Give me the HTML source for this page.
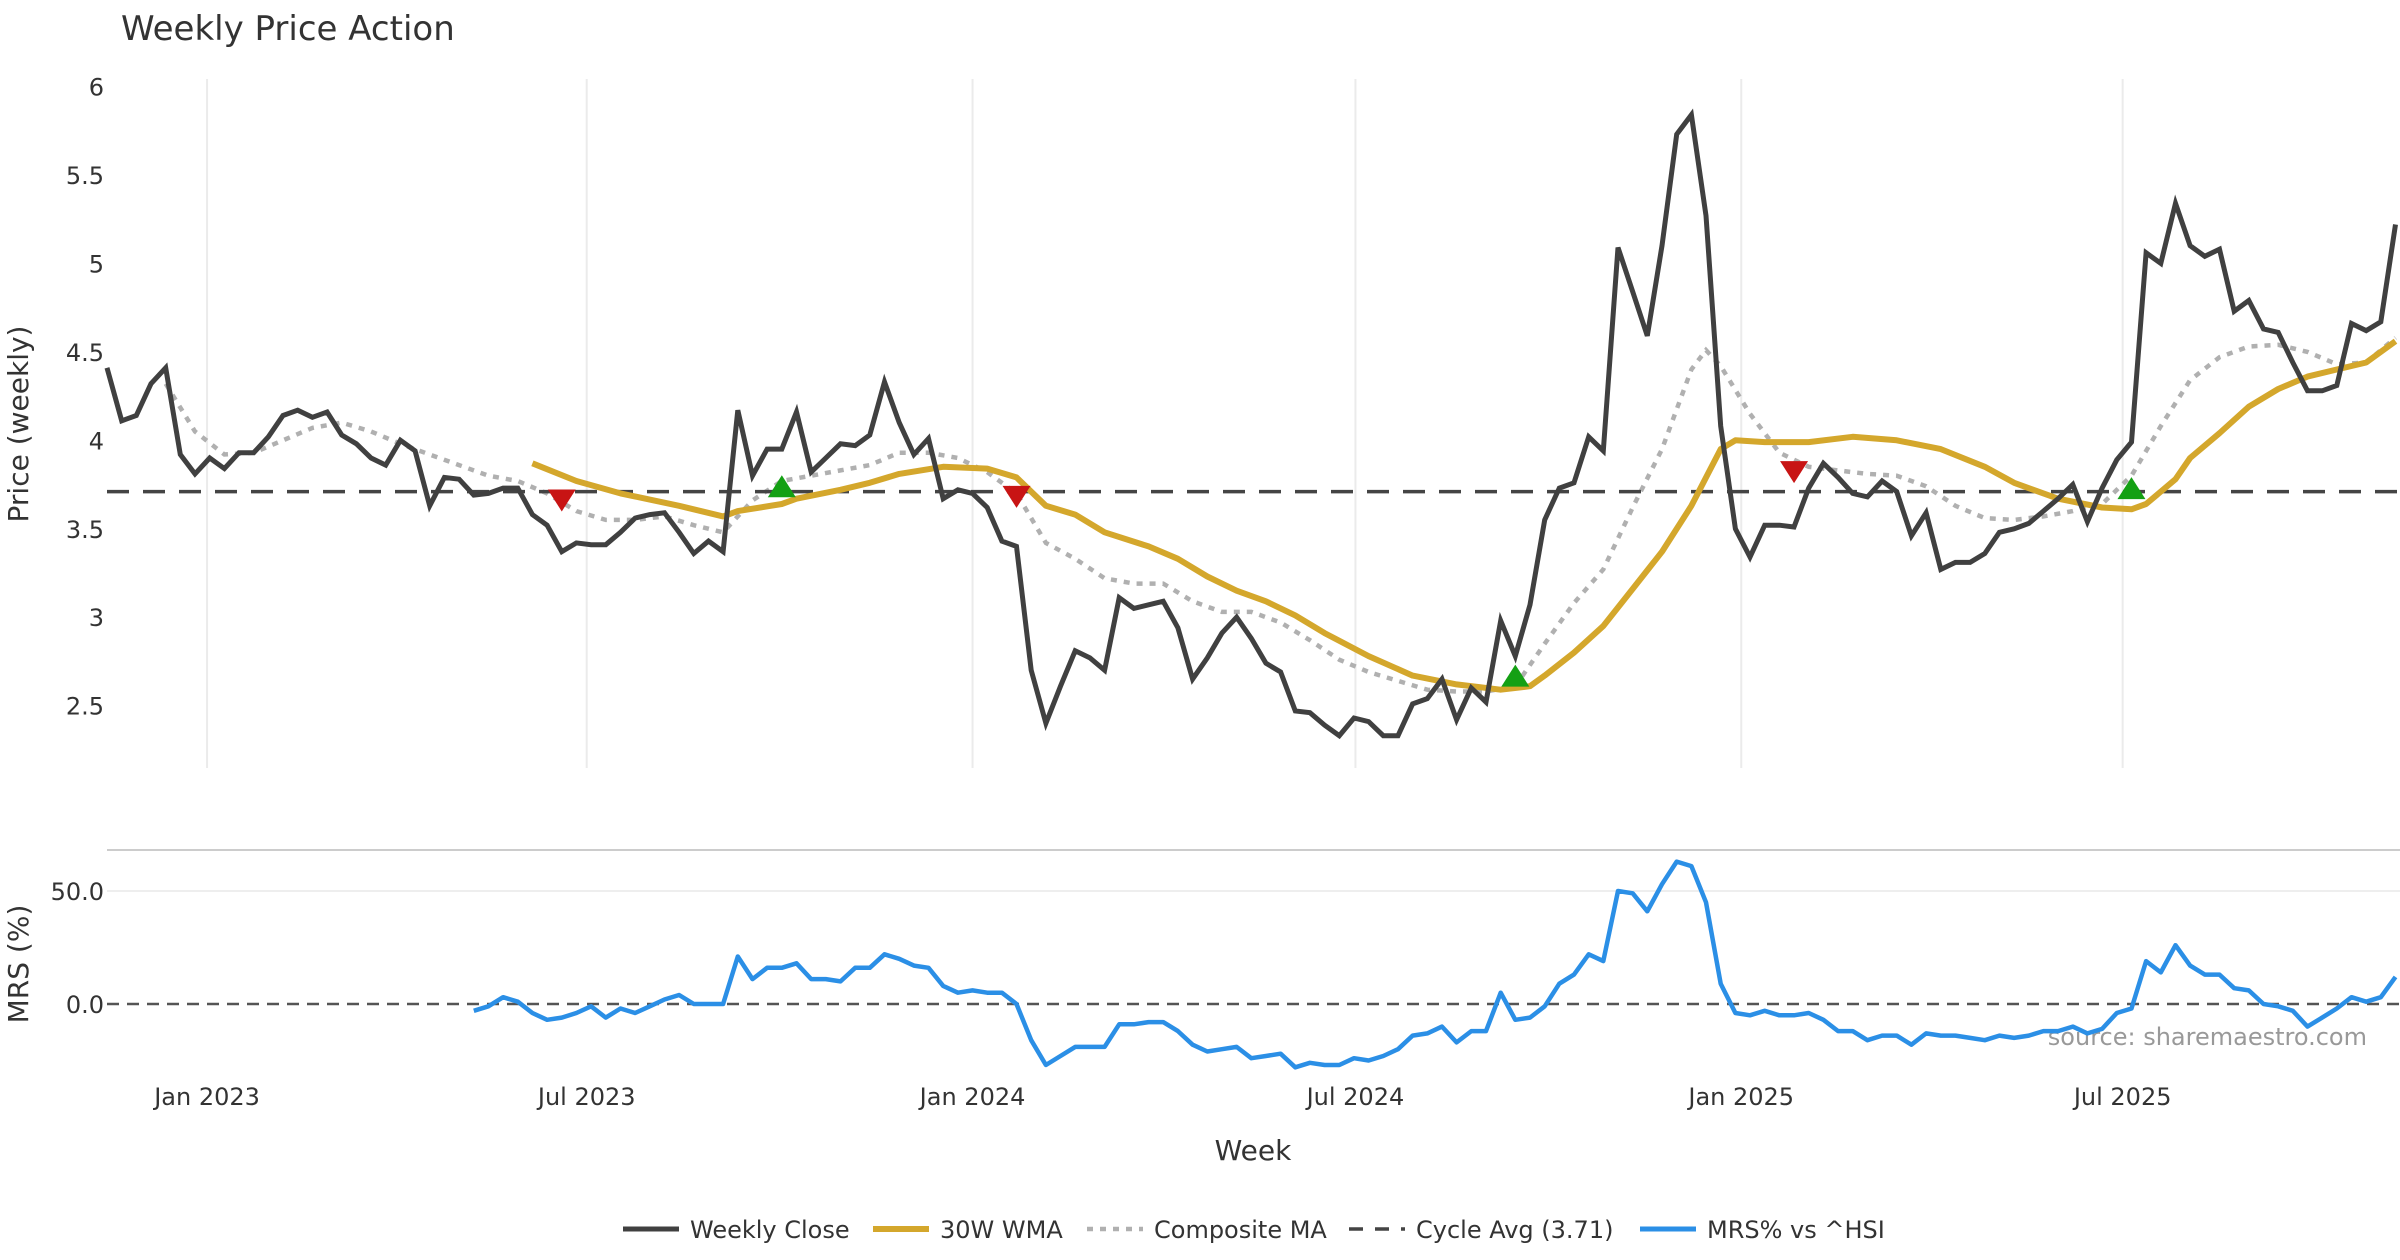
<!DOCTYPE html>
<html><head><meta charset="utf-8"><style>
html,body{margin:0;padding:0;background:#fff;}
svg{display:block;font-family:"DejaVu Sans","Liberation Sans",sans-serif;}
</style></head><body>
<svg id="chart" width="2400" height="1260" viewBox="0 0 2400 1260" xmlns="http://www.w3.org/2000/svg">
<text x="121" y="40" font-size="34" fill="#333">Weekly Price Action</text>
<text transform="translate(28,424) rotate(-90)" text-anchor="middle" font-size="28" fill="#333">Price (weekly)</text>
<text transform="translate(28,964) rotate(-90)" text-anchor="middle" font-size="28" fill="#333">MRS (%)</text>
<text x="1253" y="1160" text-anchor="middle" font-size="28" fill="#333">Week</text>
<text x="2367" y="1045" text-anchor="end" font-size="24" fill="#999">source: sharemaestro.com</text>
<g id="grid"></g><g id="axes"></g><g id="series"></g><g id="legend"></g>
</svg>
<script>
const closeVals=[4.41,4.11,4.14,4.32,4.41,3.92,3.81,3.90,3.84,3.93,3.93,4.02,4.14,4.17,4.13,4.16,4.03,3.98,3.90,3.86,4.00,3.94,3.63,3.79,3.78,3.69,3.70,3.73,3.73,3.58,3.52,3.37,3.42,3.41,3.41,3.48,3.56,3.58,3.59,3.48,3.36,3.43,3.37,4.17,3.80,3.95,3.95,4.16,3.82,3.90,3.98,3.97,4.03,4.33,4.10,3.92,4.01,3.67,3.72,3.70,3.62,3.43,3.40,2.70,2.40,2.61,2.81,2.77,2.70,3.11,3.05,3.07,3.09,2.94,2.65,2.77,2.91,3.00,2.88,2.74,2.69,2.47,2.46,2.39,2.33,2.43,2.41,2.33,2.33,2.51,2.54,2.65,2.42,2.60,2.52,2.98,2.78,3.07,3.55,3.73,3.76,4.02,3.94,5.09,4.84,4.59,5.10,5.73,5.84,5.27,4.08,3.50,3.34,3.52,3.52,3.51,3.73,3.87,3.79,3.70,3.68,3.77,3.71,3.46,3.59,3.27,3.31,3.31,3.36,3.48,3.50,3.53,3.60,3.67,3.75,3.54,3.73,3.89,3.99,5.06,5.00,5.34,5.10,5.04,5.08,4.73,4.79,4.63,4.61,4.44,4.28,4.28,4.31,4.66,4.62,4.67,5.22];
const wmaWeeks=[29,32,35,39,42,43,46,47,50,52,54,57,60,62,64,66,68,71,73,75,77,79,81,83,86,89,92,95,97,98,100,102,104,106,108,110,111,113,116,119,122,125,128,130,133,136,138,139,141,142,144,146,148,150,152,154,156];
const wmaVals=[3.87,3.77,3.70,3.63,3.57,3.60,3.64,3.67,3.72,3.76,3.81,3.85,3.84,3.79,3.63,3.58,3.48,3.40,3.33,3.23,3.15,3.09,3.01,2.91,2.78,2.67,2.62,2.59,2.61,2.67,2.80,2.95,3.16,3.37,3.63,3.95,4.00,3.99,3.99,4.02,4.00,3.95,3.85,3.76,3.67,3.62,3.61,3.64,3.78,3.90,4.04,4.19,4.29,4.36,4.40,4.44,4.56];
const compWeeks=[4,6,8,10,12,14,16,18,20,22,24,26,28,30,32,34,36,38,40,42,44,46,48,50,52,54,56,58,60,62,64,66,68,70,72,74,76,78,80,82,84,86,88,90,92,94,96,98,100,102,104,106,108,109,110,112,114,116,118,120,122,124,126,128,130,132,134,136,138,140,142,144,146,148,150,152,154,156];
const compVals=[4.32,4.05,3.92,3.93,4.00,4.07,4.10,4.05,3.98,3.92,3.86,3.80,3.77,3.70,3.60,3.55,3.55,3.57,3.52,3.48,3.66,3.77,3.80,3.83,3.86,3.93,3.93,3.90,3.82,3.70,3.42,3.33,3.22,3.19,3.19,3.09,3.03,3.03,2.97,2.87,2.76,2.69,2.64,2.59,2.58,2.58,2.61,2.85,3.08,3.27,3.62,3.95,4.40,4.51,4.42,4.15,3.93,3.85,3.83,3.81,3.80,3.74,3.63,3.56,3.55,3.57,3.60,3.64,3.80,4.08,4.34,4.47,4.53,4.54,4.50,4.43,4.44,4.58];
const mrsStart=25;
const mrsVals=[-3,-1,3,1,-4,-7,-6,-4,-1,-6,-2,-4,-1,2,4,0,0,0,21,11,16,16,18,11,11,10,16,16,22,20,17,16,8,5,6,5,5,0,-16,-27,-23,-19,-19,-19,-9,-9,-8,-8,-12,-18,-21,-20,-19,-24,-23,-22,-28,-26,-27,-27,-24,-25,-23,-20,-14,-13,-10,-17,-12,-12,5,-7,-6,-1,9,13,22,19,50,49,41,53,63,61,45,9,-4,-5,-3,-5,-5,-4,-7,-12,-12,-16,-14,-14,-18,-13,-14,-14,-15,-16,-14,-15,-14,-12,-12,-10,-13,-11,-4,-2,19,14,26,17,13,13,7,6,0,-1,-3,-10,-6,-2,3,1,3,12];
const sellWeeks=[31,62,115];
const sellVals=[3.66,3.68,3.82];
const buyWeeks=[46,96,138];
const buyVals=[3.74,2.67,3.73];
const cycleAvg=3.71;
const priceTicks=[2.5,3,3.5,4,4.5,5,5.5,6];
const priceTickLabels=["2.5","3","3.5","4","4.5","5","5.5","6"];
const mrsTicks=[0,50];
const mrsTickLabels=["0.0","50.0"];
const dateTickWeeks=[6.82,32.7,59.0,85.1,111.4,137.4];
const dateTickLabels=["Jan 2023","Jul 2023","Jan 2024","Jul 2024","Jan 2025","Jul 2025"];

const NS="http://www.w3.org/2000/svg";
const X0=107,XW=14.67;
const xS=i=>X0+i*XW;
const yP=v=>86.5+(6-v)*176.9;
const yM=v=>1004-v*2.26;
function mk(tag,attrs,parent){const e=document.createElementNS(NS,tag);for(const k in attrs)e.setAttribute(k,attrs[k]);parent.appendChild(e);return e;}
const grid=document.getElementById('grid'),axes=document.getElementById('axes'),ser=document.getElementById('series'),leg=document.getElementById('legend');

dateTickWeeks.forEach((w,k)=>{
 const g=mk('line',{x1:xS(w),x2:xS(w),y1:79,y2:768,stroke:'#ebebeb','stroke-width':2},grid);
 
 
 const t=mk('text',{x:xS(w),y:1105,'text-anchor':'middle','font-size':24,fill:'#333'},axes);
 t.textContent=dateTickLabels[k];
 
 
});
priceTicks.forEach((v,k)=>{
 const t=mk('text',{x:104,y:yP(v)+9,'text-anchor':'end','font-size':24,fill:'#333'},axes);
 t.textContent=priceTickLabels[k];
 
 
});
const sep=mk('line',{x1:X0,x2:2400,y1:850,y2:850,stroke:'#cccccc','stroke-width':2},grid);


mrsTicks.forEach((v,k)=>{
 if(v!==0){const g=mk('line',{x1:X0,x2:2400,y1:yM(v),y2:yM(v),stroke:'#eeeeee','stroke-width':2},grid);
 
 }
 const t=mk('text',{x:104,y:yM(v)+9,'text-anchor':'end','font-size':24,fill:'#333'},axes);
 t.textContent=mrsTickLabels[k];
 
 
});
const zl=mk('line',{x1:X0,x2:2400,y1:yM(0),y2:yM(0),stroke:'#555','stroke-width':2.5,'stroke-dasharray':'12 8'},ser);



function pts(ws,vs,yf){return ws.map((w,k)=>xS(w).toFixed(1)+','+yf(vs[k]).toFixed(1)).join(' ');}
const comp=mk('polyline',{points:pts(compWeeks,compVals,yP),fill:'none',stroke:'#b0b0b0','stroke-width':4.5,'stroke-dasharray':'6 7'},ser);


const cyc=mk('line',{x1:X0,x2:2400,y1:yP(cycleAvg),y2:yP(cycleAvg),stroke:'#444','stroke-width':3.5,'stroke-dasharray':'22 14'},ser);


const wma=mk('polyline',{points:pts(wmaWeeks,wmaVals,yP),fill:'none',stroke:'#d4a72c','stroke-width':6,'stroke-linejoin':'round'},ser);


const cl=mk('polyline',{points:pts(closeVals.map((v,i)=>i),closeVals,yP),fill:'none',stroke:'#404040','stroke-width':5,'stroke-linejoin':'miter'},ser);


const mrs=mk('polyline',{points:pts(mrsVals.map((v,i)=>i+mrsStart),mrsVals,yM),fill:'none',stroke:'#2b8fe6','stroke-width':4.5,'stroke-linejoin':'round'},ser);


sellWeeks.forEach((w,k)=>{const x=xS(w),y=yP(sellVals[k]);
 const p=mk('polygon',{points:`${x-14},${y-11} ${x+14},${y-11} ${x},${y+11}`,fill:'#c81414'},ser);
 
 });
buyWeeks.forEach((w,k)=>{const x=xS(w),y=yP(buyVals[k]);
 const p=mk('polygon',{points:`${x-14},${y+11} ${x+14},${y+11} ${x},${y-11}`,fill:'#14a014'},ser);
 
 });

const legItems=[
 {x:623,label:'Weekly Close',stroke:'#404040',w:5,dash:''},
 {x:873,label:'30W WMA',stroke:'#d4a72c',w:6,dash:''},
 {x:1087,label:'Composite MA',stroke:'#b0b0b0',w:4.5,dash:'6 7'},
 {x:1349,label:'Cycle Avg (3.71)',stroke:'#444',w:3.5,dash:'14 12'},
 {x:1640,label:'MRS% vs ^HSI',stroke:'#2b8fe6',w:5,dash:''}];
legItems.forEach(it=>{
 const g=mk('g',{},leg);
 
 
 const l=mk('line',{x1:it.x,x2:it.x+56,y1:1229,y2:1229,stroke:it.stroke,'stroke-width':it.w,'stroke-dasharray':it.dash},g);
 
 
 const t=mk('text',{x:it.x+67,y:1238,'font-size':24,fill:'#333'},g);
 t.textContent=it.label;
 
 
});
</script>
</body></html>
